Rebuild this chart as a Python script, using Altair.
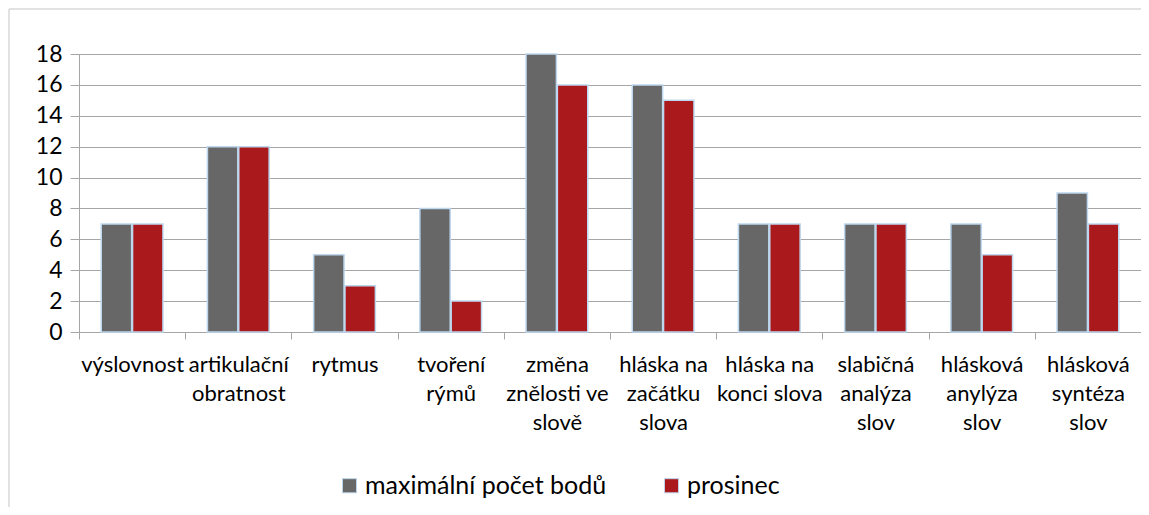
import altair as alt
import pandas as pd

categories = [
    "výslovnost",
    "artikulační|obratnost",
    "rytmus",
    "tvoření|rýmů",
    "změna|znělosti ve|slově",
    "hláska na|začátku|slova",
    "hláska na|konci slova",
    "slabičná|analýza|slov",
    "hlásková|anylýza|slov",
    "hlásková|syntéza|slov",
]
series = ["maximální počet bodů", "prosinec"]
max_points = [7, 12, 5, 8, 18, 16, 7, 7, 7, 9]
december = [7, 12, 3, 2, 16, 15, 7, 7, 5, 7]
colors = ["#676767", "#AA1A1D"]

rows = []
for c, a, b in zip(categories, max_points, december):
    rows.append({"kategorie": c, "serie": series[0], "hodnota": a})
    rows.append({"kategorie": c, "serie": series[1], "hodnota": b})
df = pd.DataFrame(rows)

FONT = "Lato"
GRID = "#A6A6A6"

bars = alt.Chart(df).mark_bar(stroke="#BDD7EE", strokeWidth=1.5).encode(
    x=alt.X(
        "kategorie:N",
        sort=categories,
        scale=alt.Scale(paddingInner=0, paddingOuter=0),
        axis=alt.Axis(
            title=None,
            labelAngle=0,
            labelExpr="split(datum.label, '|')",
            labelFont=FONT,
            labelFontSize=22,
            labelColor="#000000",
            labelLineHeight=29,
            labelPadding=15,
            labelBaseline="top",
            tickBand="extent",
            tickSize=7,
            tickColor=GRID,
            domainColor=GRID,
            labelLimit=200,
        ),
    ),
    xOffset=alt.XOffset(
        "serie:N",
        sort=series,
        scale=alt.Scale(paddingInner=0.03, paddingOuter=0.71),
    ),
    y=alt.Y(
        "hodnota:Q",
        scale=alt.Scale(domain=[0, 18], nice=False),
        axis=alt.Axis(
            title=None,
            values=list(range(0, 19, 2)),
            labelFont=FONT,
            labelFontSize=23,
            labelColor="#000000",
            labelPadding=8,
            tickSize=9,
            tickColor=GRID,
            gridColor=GRID,
            domainColor=GRID,
        ),
    ),
    color=alt.Color(
        "serie:N",
        sort=series,
        scale=alt.Scale(domain=series, range=colors),
        legend=alt.Legend(
            title=None,
            orient="none",
            direction="horizontal",
            legendX=258,
            legendY=419,
            symbolType="square",
            symbolSize=200,
            symbolStrokeColor="#BDD7EE",
            symbolStrokeWidth=1,
            symbolOpacity=1,
            labelFont=FONT,
            labelFontSize=25,
            labelColor="#000000",
            labelOffset=3,
            columnPadding=52,
            labelLimit=400,
        ),
    ),
)

frame_src = pd.DataFrame({"a": [0]})
frame_top = alt.Chart(frame_src).mark_rule(
    stroke="#D9D9D9", strokeWidth=1.5, clip=False
).encode(
    x=alt.value(-70),
    x2=alt.value(1200),
    y=alt.value(-45),
)
frame_left = alt.Chart(frame_src).mark_rule(
    stroke="#D9D9D9", strokeWidth=1.5, clip=False
).encode(
    x=alt.value(-70),
    y=alt.value(-45),
    y2=alt.value(600),
)

chart = alt.layer(frame_top, frame_left, bars).properties(
    width=1062,
    height=278,
    autosize=alt.AutoSizeParams(type="none"),
    padding={"left": 71, "top": 46, "right": 0, "bottom": 175},
).configure_view(stroke=None).configure(background="white")

chart.save("out.html", embed_options={"renderer": "svg", "actions": False})
